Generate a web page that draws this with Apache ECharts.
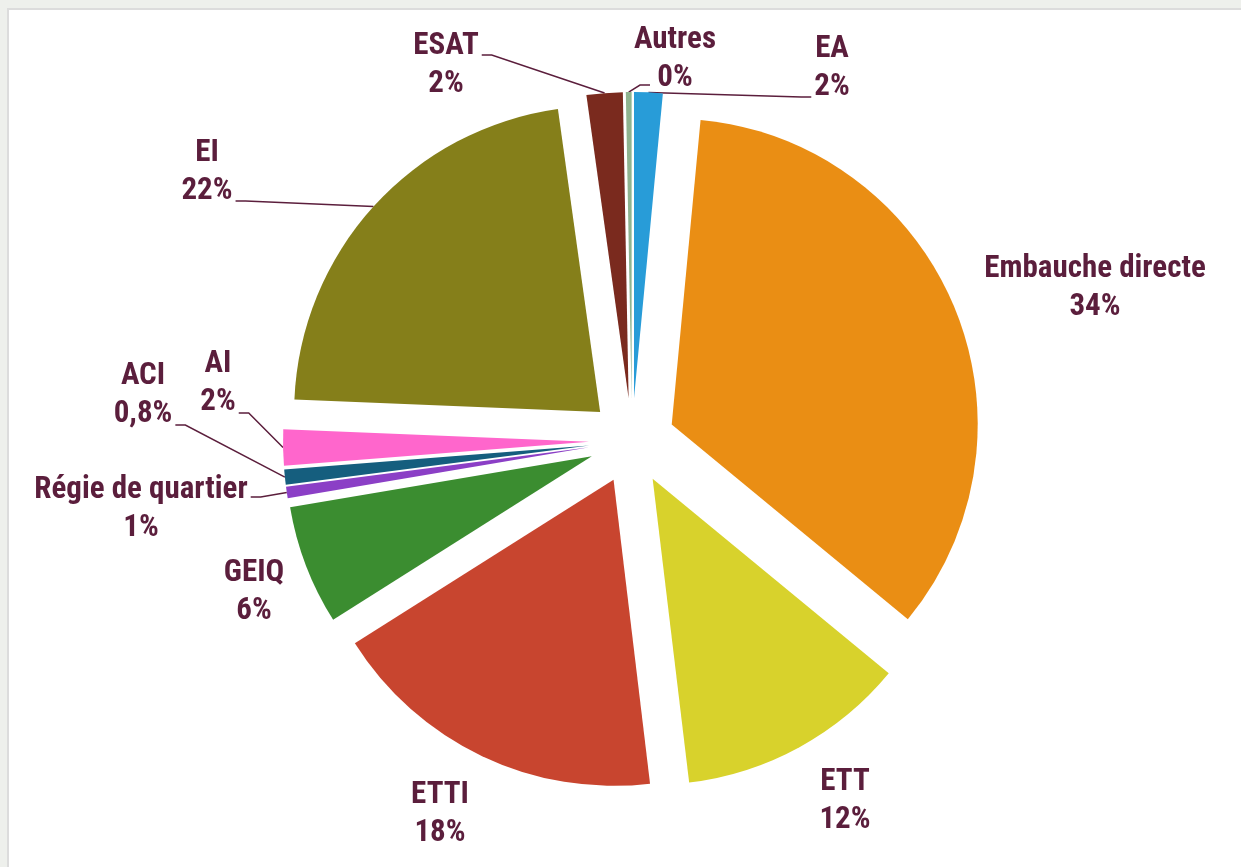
<!DOCTYPE html>
<html>
<head>
<meta charset="utf-8">
<script src="https://cdn.jsdelivr.net/npm/echarts@6/dist/echarts.min.js"></script>
<style>
  html, body { margin: 0; padding: 0; background: #eef0ec; }
  .card {
    position: absolute; left: 7px; top: 8px; width: 1250px; height: 880px;
    background: #fff; border-left: 2px solid #dcdcdc; border-top: 2px solid #dcdcdc;
    box-sizing: border-box;
  }
  #main { position: absolute; left: 0; top: 0; width: 1241px; height: 867px; }
</style>
</head>
<body>
<div class="card"></div>
<div id="main"></div>
<script>
// categories, clockwise from 12 o'clock
const categories = ['EA', 'Embauche directe', 'ETT', 'ETTI', 'GEIQ', 'Régie de quartier', 'ACI', 'AI', 'EI', 'ESAT', 'Autres'];
// shares (%)
const values = [1.5, 34.4, 12.1, 17.9, 6.3, 0.6, 0.8, 1.9, 22.1, 1.9, 0.3];
// percentages as printed on the chart
const shownPct = ['2%', '34%', '12%', '18%', '6%', '1%', '0,8%', '2%', '22%', '2%', '0%'];
const colors = ['#289cd8', '#ea8e14', '#d8d22c', '#c8452f', '#3b8d30', '#8b3fc6', '#155e7e', '#ff66cc', '#857f1a', '#7a2a1e', '#8fb38f'];

// label placement (centre of the two-line block), leader line on/off,
// and where the leader meets the label (dy from centre, optional dx)
const labelCfg = {
  'EA': { at: [832, 68], line: true, dy: 29 },
  'Embauche directe': { at: [1095, 288], line: false },
  'ETT': { at: [845, 801], line: false },
  'ETTI': { at: [440, 814], line: false },
  'GEIQ': { at: [254, 592], line: false },
  'Régie de quartier': { at: [141, 509], line: true, dy: -12 },
  'ACI': { at: [143, 395], line: true, dy: 30 },
  'AI': { at: [218, 383], line: true, dy: 30 },
  'EI': { at: [207, 172], line: true, dy: 29 },
  'ESAT': { at: [446, 65], line: true, dy: -10 },
  'Autres': { at: [675, 59], line: true, dy: 26, dx: -25 }
};

const pieCenter = [632, 441];
const pieRadius = 306;
const explode = 43;
const textColor = '#5b1e3c';
const fontFam = '"Roboto Condensed", "Liberation Sans Narrow", "DejaVu Sans Condensed", Roboto, sans-serif';

var myChart = echarts.init(document.getElementById('main'));

// one pie per slice so every slice can be pulled out along its own bisector
const total = values.reduce(function (a, b) { return a + b; }, 0);
let cum = 0;
const series = categories.map(function (name, i) {
  const mid = (cum + values[i] / 2) / total * 2 * Math.PI;
  cum += values[i];
  const cfg = labelCfg[name];
  return {
    type: 'pie',
    silent: true,
    center: [pieCenter[0] + explode * Math.sin(mid), pieCenter[1] - explode * Math.cos(mid)],
    radius: pieRadius,
    startAngle: 90,
    clockwise: true,
    avoidLabelOverlap: false,
    itemStyle: { borderWidth: 0 },
    label: {
      color: textColor,
      fontFamily: fontFam,
      fontWeight: 'bold',
      fontSize: 31,
      lineHeight: 38,
      align: 'center',
      formatter: function (p) {
        return p.name + '\n' + shownPct[p.dataIndex];
      }
    },
    labelLine: { lineStyle: { color: textColor, width: 1.5 } },
    labelLayout: function (p) {
      if (p.dataIndex !== i) return {};
      const w = p.labelRect.width;
      const out = { x: cfg.at[0], y: cfg.at[1], align: 'center', verticalAlign: 'middle' };
      if (cfg.line && p.labelLinePoints) {
        const a = p.labelLinePoints[0];
        const onRight = a[0] > cfg.at[0];
        let sx = onRight ? cfg.at[0] + w / 2 + 3 : cfg.at[0] - w / 2 - 3;
        if (cfg.dx != null) sx = cfg.at[0] + cfg.dx;
        const sy = cfg.at[1] + cfg.dy;
        const stub = a[0] > sx ? sx + 10 : sx - 10;
        out.labelLinePoints = [[a[0], a[1]], [stub, sy], [sx, sy]];
      }
      return out;
    },
    data: categories.map(function (c, j) {
      return {
        name: c,
        value: values[j],
        itemStyle: { color: j === i ? colors[j] : 'rgba(0,0,0,0)' },
        label: { show: j === i },
        labelLine: { show: j === i && cfg.line }
      };
    })
  };
});

var option = {
  animation: false,
  series: series
};
option && myChart.setOption(option);
</script>
</body>
</html>
